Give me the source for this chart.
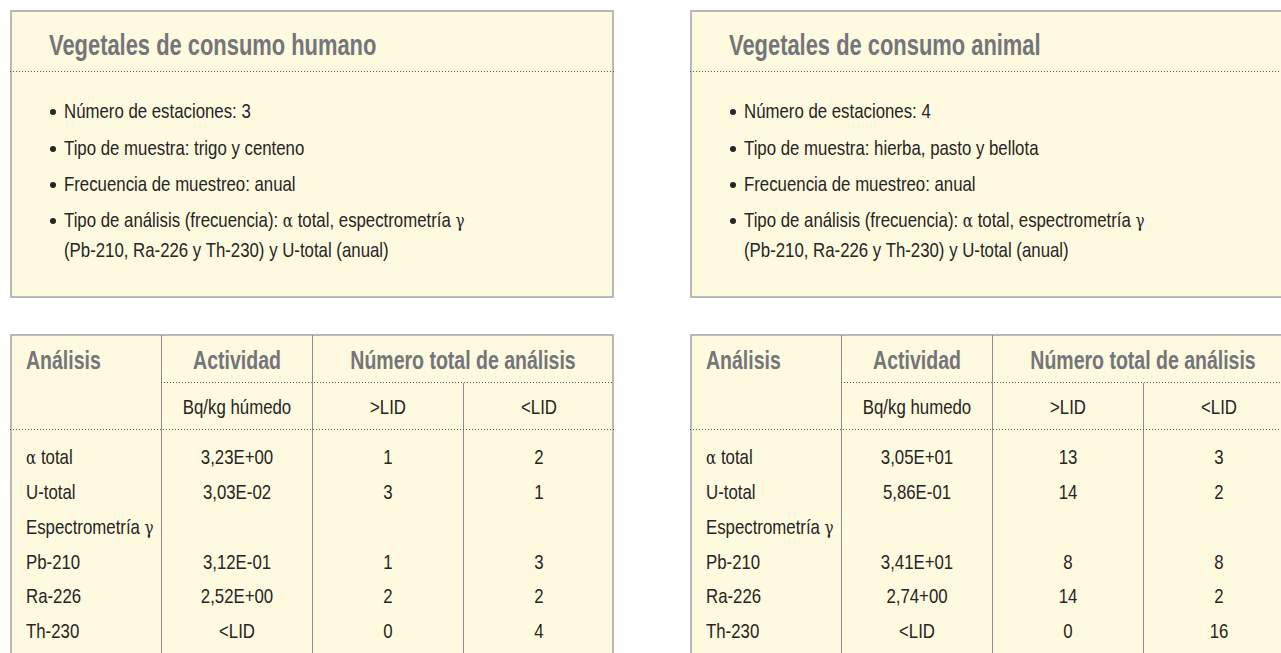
<!DOCTYPE html>
<html lang="es">

<head>
    <meta charset="UTF-8">
    <title>Vegetales de consumo</title>
    <script src="https://cdn.jsdelivr.net/npm/chart.js@4.4.0/dist/chart.umd.min.js"></script>
    <style>
        html, body { margin: 0; padding: 0; background: #fff; }
        body { width: 1281px; height: 653px; position: relative; overflow: hidden;
               font-family: "Liberation Sans", Arial, sans-serif; color: #262424; }
        .box { position: absolute; background: #fefadf; border: 2px solid #b8b8b8; box-sizing: border-box; }
        .t { position: absolute; white-space: nowrap; }
        .dots { position: absolute; height: 1px;
                background: repeating-linear-gradient(to right, #555 0 1px, transparent 1px 3px); }
        .vline { position: absolute; width: 1px; background: #8e8e8e; }
        .dot { position: absolute; border-radius: 50%; background: #262424; }
        .greek { font-family: "DejaVu Serif", "Liberation Serif", serif; font-size: 0.9em; }
        .title { font-weight: bold; color: #74757a; }
    </style>
</head>

<body>
    <script>
        // --- info boxes ---
        const humanTitle = 'Vegetales de consumo humano'
        const humanBullets = [
            'Número de estaciones: 3',
            'Tipo de muestra: trigo y centeno',
            'Frecuencia de muestreo: anual',
            'Tipo de análisis (frecuencia): <span class="greek">α</span> total, espectrometría <span class="greek">γ</span><br>(Pb-210, Ra-226 y Th-230) y U-total (anual)'
        ]
        const animalTitle = 'Vegetales de consumo animal'
        const animalBullets = [
            'Número de estaciones: 4',
            'Tipo de muestra: hierba, pasto y bellota',
            'Frecuencia de muestreo: anual',
            'Tipo de análisis (frecuencia): <span class="greek">α</span> total, espectrometría <span class="greek">γ</span><br>(Pb-210, Ra-226 y Th-230) y U-total (anual)'
        ]

        // --- tables ---
        const headAnalisis = 'Análisis'
        const headActividad = 'Actividad'
        const headNumero = 'Número total de análisis'
        const humanUnit = 'Bq/kg húmedo'
        const animalUnit = 'Bq/kg humedo'
        const headAbove = '>LID'
        const headBelow = '<LID'
        const rowLabels = ['<span class="greek">α</span> total', 'U-total', 'Espectrometría <span class="greek">γ</span>', 'Pb-210', 'Ra-226', 'Th-230']
        const humanActivity = ['3,23E+00', '3,03E-02', '', '3,12E-01', '2,52E+00', '<LID']
        const humanAbove = [1, 3, null, 1, 2, 0]
        const humanBelow = [2, 1, null, 3, 2, 4]
        const animalActivity = ['3,05E+01', '5,86E-01', '', '3,41E+01', '2,74+00', '<LID']
        const animalAbove = [13, 14, null, 8, 14, 0]
        const animalBelow = [3, 2, null, 8, 2, 16]

        const el = (cls, css, html) => {
            const d = document.createElement('div')
            d.className = cls
            Object.assign(d.style, css)
            if (html !== undefined) d.innerHTML = html
            document.body.appendChild(d)
            return d
        }

        const esc = s => String(s).replace(/</g, '&lt;').replace(/>/g, '&gt;')

        // text with its cap centre at y, squeezed sideways to look condensed
        const text = (x, y, html, size, align, sx, extra) => {
            const lh = Math.round(size * 1.15)
            const css = { left: x + 'px', top: (y - lh / 2) + 'px', fontSize: size + 'px', lineHeight: lh + 'px' }
            if (align === 'center') {
                css.transformOrigin = 'center center'
                css.transform = 'translateX(-50%) scaleX(' + sx + ')'
            } else {
                css.transformOrigin = 'left center'
                css.transform = 'scaleX(' + sx + ')'
            }
            return el('t' + (extra ? ' ' + extra : ''), css, html)
        }

        const BODY = 21, BODY_SX = 0.8

        const drawInfo = (ox, title, bullets) => {
            el('box', { left: ox + 'px', top: '10px', width: '604px', height: '288px' })
            text(ox + 39, 44, title, 30, 'left', 0.73, 'title')
            el('dots', { left: ox + 'px', top: '71px', width: '604px' })
            const ys = [110, 147, 183, 219]
            bullets.forEach((b, i) => {
                el('dot', { left: (ox + 40) + 'px', top: (ys[i] - 1) + 'px', width: '6px', height: '6px' })
                const d = text(ox + 54, ys[i], b, BODY, 'left', BODY_SX)
                d.style.lineHeight = '29px'
                d.style.top = (ys[i] - 14.5) + 'px'
                d.style.transformOrigin = 'left top'
            })
        }

        const drawTable = (ox, unit, activity, above, below) => {
            const colW = 151
            const cx = i => ox + colW * i + colW / 2
            el('box', { left: ox + 'px', top: '334px', width: '604px', height: '340px' })
            el('vline', { left: (ox + colW) + 'px', top: '335px', height: '330px' })
            el('vline', { left: (ox + colW * 2) + 'px', top: '335px', height: '330px' })
            el('vline', { left: (ox + colW * 3) + 'px', top: '383px', height: '290px' })
            el('dots', { left: (ox + colW) + 'px', top: '382px', width: (colW * 3) + 'px' })
            el('dots', { left: ox + 'px', top: '429px', width: '604px' })

            text(ox + 16, 360, headAnalisis, 25, 'left', 0.78, 'title')
            text(cx(1), 360, headActividad, 25, 'center', 0.78, 'title')
            text(ox + colW * 3, 360, headNumero, 25, 'center', 0.78, 'title')
            text(cx(1), 407, unit, BODY, 'center', BODY_SX)
            text(cx(2), 407, esc(headAbove), BODY, 'center', BODY_SX)
            text(cx(3), 407, esc(headBelow), BODY, 'center', BODY_SX)

            const rowY = [457, 492, 527, 562, 596, 631]
            rowLabels.forEach((lab, i) => {
                text(ox + 16, rowY[i], lab, BODY, 'left', BODY_SX)
                if (activity[i]) text(cx(1), rowY[i], esc(activity[i]), BODY, 'center', BODY_SX)
                if (above[i] !== null) text(cx(2), rowY[i], above[i], BODY, 'center', BODY_SX)
                if (below[i] !== null) text(cx(3), rowY[i], below[i], BODY, 'center', BODY_SX)
            })
        }

        drawInfo(10, humanTitle, humanBullets)
        drawInfo(690, animalTitle, animalBullets)
        drawTable(10, humanUnit, humanActivity, humanAbove, humanBelow)
        drawTable(690, animalUnit, animalActivity, animalAbove, animalBelow)
    </script>
</body>

</html>
